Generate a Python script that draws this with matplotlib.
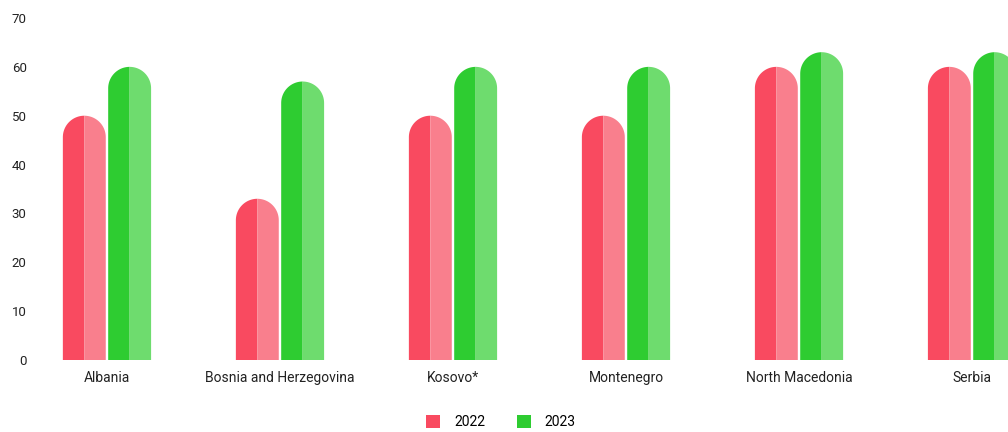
import numpy as np
import matplotlib
matplotlib.use("Agg")
import matplotlib.pyplot as plt
from matplotlib.patches import Polygon, Patch
from matplotlib import font_manager

countries = ["Albania", "Bosnia and Herzegovina", "Kosovo*", "Montenegro", "North Macedonia", "Serbia"]
values_2022 = [50, 33, 50, 50, 60, 60]
values_2023 = [60, 57, 60, 60, 63, 63]
years = ["2022", "2023"]

dark = {"2022": "#F94A60", "2023": "#2ECC31"}
light = {"2022": "#F97F8D", "2023": "#6EDC6E"}

names = {f.name for f in font_manager.fontManager.ttflist}
family = "Liberation Sans Narrow" if "Liberation Sans Narrow" in names else "Roboto"
plt.rcParams["font.family"] = [family, "DejaVu Sans"]

fig = plt.figure(figsize=(10.08, 4.32), dpi=100)
ax = fig.add_axes([35 / 1008, 72 / 432, 973 / 1008, 342 / 432])
ax.set_xlim(-0.416, 5.208)
ax.set_ylim(0, 70)

width = 0.248
offset = 0.131
# cap radius in data units (half bar width, converted for aspect)
px_x = 973 / (5.208 + 0.416)
px_y = 342 / 70
rx = width / 2
ry = rx * px_x / px_y


def half_bar(cx, value, side, color):
    top = value - ry
    t = np.linspace(0, np.pi / 2, 30)
    if side == "left":
        arc = [(cx - rx * np.cos(a), top + ry * np.sin(a)) for a in t]
        pts = [(cx - rx, 0)] + arc + [(cx, 0)]
    else:
        arc = [(cx + rx * np.cos(a), top + ry * np.sin(a)) for a in t]
        pts = [(cx + rx, 0)] + arc + [(cx, 0)]
    ax.add_patch(Polygon(pts, closed=True, facecolor=color, edgecolor="none"))


x = np.arange(len(countries))
for year, vals, sign in [("2022", values_2022, -1), ("2023", values_2023, 1)]:
    for xi, v in zip(x, vals):
        cx = xi + sign * offset
        half_bar(cx, v, "left", dark[year])
        half_bar(cx, v, "right", light[year])

ax.set_xticks(x, countries, fontsize=10, color="#222222")
ax.set_yticks(range(0, 71, 10))
ax.tick_params(axis="y", labelsize=9.5, colors="#222222", length=0, pad=6)
ax.tick_params(axis="x", length=0, pad=8)
for s in ax.spines.values():
    s.set_visible(False)

handles = [Patch(facecolor=dark[y], label=y) for y in years]
fig.legend(handles=handles, loc="center", bbox_to_anchor=(0.497, 0.023), ncol=2,
           frameon=False, fontsize=10, handlelength=1.0, handleheight=1.0,
           columnspacing=2.3, handletextpad=1.0)

fig.savefig("out.png", dpi=100)
